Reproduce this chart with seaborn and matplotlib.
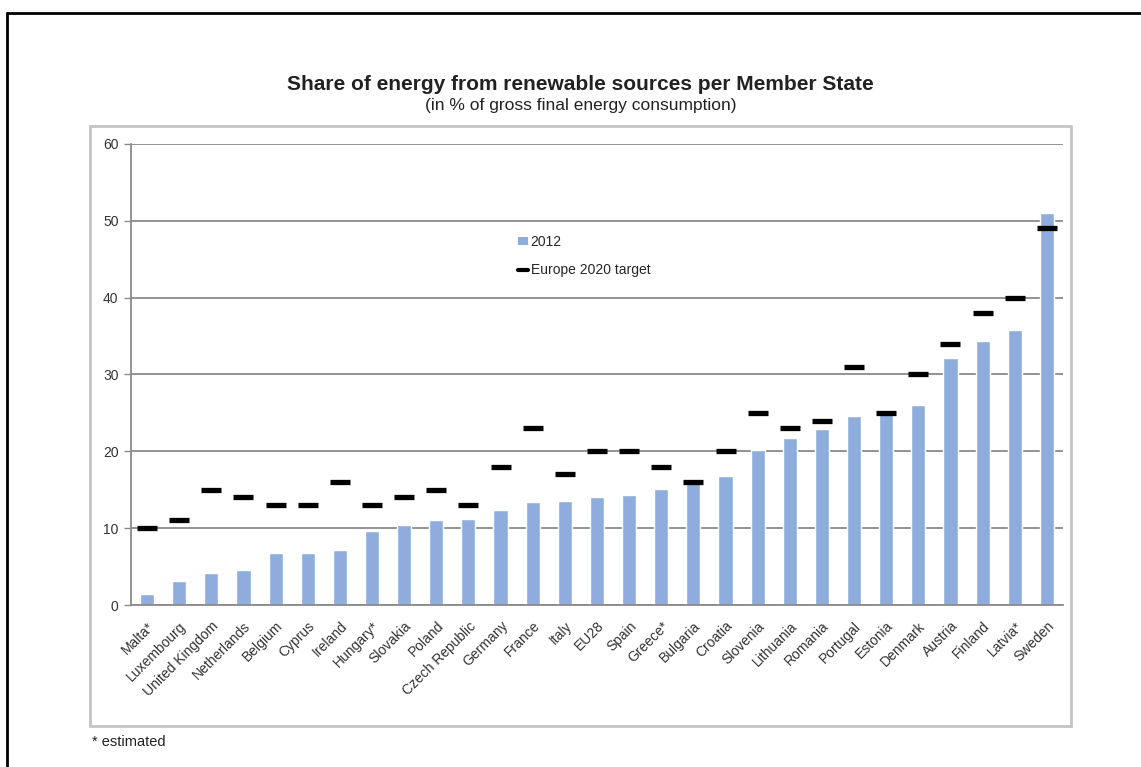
import matplotlib
matplotlib.use("Agg")
import matplotlib.pyplot as plt
import seaborn as sns
import pandas as pd
import numpy as np
from matplotlib.lines import Line2D
from matplotlib.patches import Rectangle, Patch

countries = ["Malta*", "Luxembourg", "United Kingdom", "Netherlands", "Belgium", "Cyprus",
             "Ireland", "Hungary*", "Slovakia", "Poland", "Czech Republic", "Germany", "France",
             "Italy", "EU28", "Spain", "Greece*", "Bulgaria", "Croatia", "Slovenia", "Lithuania",
             "Romania", "Portugal", "Estonia", "Denmark", "Austria", "Finland", "Latvia*", "Sweden"]
share_2012 = [1.4, 3.1, 4.2, 4.5, 6.8, 6.8, 7.2, 9.6, 10.4, 11.0, 11.2, 12.4, 13.4, 13.5, 14.1,
              14.3, 15.1, 16.3, 16.8, 20.2, 21.7, 22.9, 24.6, 25.2, 26.0, 32.1, 34.3, 35.8, 51.0]
target_2020 = [10, 11, 15, 14, 13, 13, 16, 13, 14, 15, 13, 18, 23, 17, 20, 20, 18, 16, 20, 25,
               23, 24, 31, 25, 30, 34, 38, 40, 49]
y_ticks = [0, 10, 20, 30, 40, 50, 60]

df = pd.DataFrame({"country": countries, "share": share_2012, "target": target_2020})

sns.set_theme(style="white")
plt.rcParams["font.family"] = ["Liberation Sans", "DejaVu Sans"]

fig = plt.figure(figsize=(11.41, 7.67), dpi=100)
ax = fig.add_axes([0.1148, 0.2112, 0.8168, 0.6011])

bar_color = "#8EADDC"
sns.barplot(data=df, x="country", y="share", color=bar_color, width=0.44,
            saturation=1, ax=ax, zorder=2)
sns.scatterplot(data=df, x="country", y="target", marker="_", s=210, linewidth=3.8,
                color="black", ax=ax, zorder=3, legend=False)

ax.set_ylim(0, 60)
ax.set_xlim(-0.5, len(countries) - 0.5)
ax.set_yticks(y_ticks)
ax.set_yticklabels([str(v) for v in y_ticks], fontsize=10, color="#333333")
ax.yaxis.grid(True, color="#8a8a8a", linewidth=1.3, zorder=0)
ax.set_axisbelow(True)
ax.set_xlabel("")
ax.set_ylabel("")

ax.set_xticks(np.arange(len(countries)))
ax.set_xticklabels(countries, rotation=45, ha="right", rotation_mode="anchor",
                   fontsize=10, color="#333333")
ax.set_xticks(np.arange(-0.5, len(countries), 1), minor=True)
ax.tick_params(axis="x", which="major", length=0, pad=10)
ax.tick_params(axis="x", which="minor", length=4, width=1, color="#8a8a8a", direction="out")
ax.tick_params(axis="y", length=5, width=1, color="#8a8a8a", direction="out", pad=4, left=True)

for side in ["top", "right"]:
    ax.spines[side].set_visible(False)
for side in ["left", "bottom"]:
    ax.spines[side].set_visible(True)
    ax.spines[side].set_color("#8a8a8a")
    ax.spines[side].set_linewidth(1.3)

handles = [Patch(facecolor=bar_color, edgecolor="none"),
           Line2D([0], [0], color="black", linewidth=3)]
leg = ax.legend(handles, ["2012", "Europe 2020 target"], loc="upper left",
                bbox_to_anchor=(0.402, 0.829), frameon=False, fontsize=10,
                handlelength=0.7, handleheight=0.5, handletextpad=0.2, labelspacing=1.0)

fig.text(0.509, 0.890, "Share of energy from renewable sources per Member State",
         ha="center", va="center", fontsize=15, fontweight="bold", color="#222222")
fig.text(0.509, 0.862, "(in % of gross final energy consumption)",
         ha="center", va="center", fontsize=12.5, color="#222222")
fig.text(0.081, 0.032, "* estimated", ha="left", va="center", fontsize=10.5, color="#222222")

# frame decorations
fig.add_artist(Rectangle((0.0789, 0.0535), 0.8597, 0.7822, transform=fig.transFigure,
                         fill=False, edgecolor="#c4c4c4", linewidth=2))
fig.add_artist(Line2D([0.0061, 1.0], [0.983, 0.983], transform=fig.transFigure,
                      color="black", linewidth=2))
fig.add_artist(Line2D([0.0061, 0.0061], [0.0, 0.983], transform=fig.transFigure,
                      color="black", linewidth=2))

fig.savefig("out.png", dpi=100)
